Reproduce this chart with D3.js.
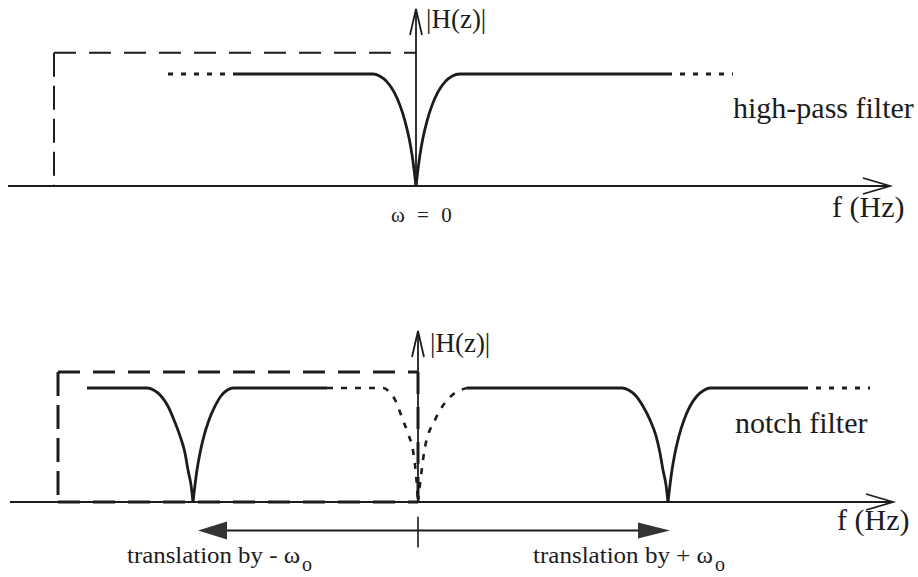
<!DOCTYPE html>
<html><head><meta charset="utf-8">
<script src="https://cdn.jsdelivr.net/npm/d3@7"></script>
<style>html,body{margin:0;padding:0;background:#fff;} svg{display:block;}</style>
</head><body><svg id="c" width="918" height="577"></svg>
<script>
// ---------- data (frequency in arbitrary units, 0 = vertical axis; magnitude 1 = passband) ----------
const axisExtentTop = [-4.08, 4.74];
const axisExtentBot = [-4.08, 4.75];
const idealTop = {x0: -3.62, x1: 0, level: 1.19};   // dashed ideal response, high-pass panel
const idealBot = {x0: -3.60, x1: 0, level: 1.14};   // dashed ideal response, notch panel
const vAxisTopMax = 1.58, vAxisBotMax = 1.50;

// high-pass filter response
const hpDotLeft  = [[-2.48,1],[-1.83,1]];
const hpSolidL   = [[-1.83,1],[-0.43,1],[-0.36,0.98],[-0.29,0.93],[-0.22,0.84],[-0.16,0.72],[-0.11,0.58],[-0.07,0.43],[-0.04,0.28],[-0.02,0.15],[0,0]];
const hpSolidR   = [[0,0],[0.02,0.15],[0.04,0.28],[0.07,0.43],[0.11,0.58],[0.16,0.72],[0.22,0.84],[0.29,0.93],[0.36,0.98],[0.44,1],[2.51,1]];
const hpDotRight = [[2.51,1],[3.17,1]];

// notch filter response
const ntSolidA = [[-3.31,1],[-2.71,1],[-2.64,0.98],[-2.57,0.93],[-2.50,0.84],[-2.44,0.72],[-2.38,0.58],[-2.33,0.43],[-2.30,0.28],[-2.27,0.15],[-2.25,0]];
const ntSolidB = [[-2.25,0],[-2.23,0.15],[-2.21,0.28],[-2.18,0.43],[-2.14,0.58],[-2.09,0.72],[-2.03,0.84],[-1.97,0.93],[-1.91,0.98],[-1.85,1],[-0.91,1]];
const ntDotC   = [[-0.91,1],[-0.35,1],[-0.29,0.97],[-0.22,0.88],[-0.16,0.74],[-0.10,0.60],[-0.05,0.45],[-0.02,0.24],[0,0]];
const ntDotD   = [[0,0],[0.07,0.48],[0.17,0.72],[0.32,0.92],[0.45,0.99],[0.49,1]];
const ntSolidE = [[0.49,1],[2.04,1],[2.11,0.98],[2.18,0.93],[2.25,0.84],[2.32,0.72],[2.38,0.58],[2.42,0.43],[2.45,0.28],[2.48,0.15],[2.50,0]];
const ntSolidF = [[2.50,0],[2.52,0.15],[2.54,0.28],[2.57,0.43],[2.61,0.58],[2.66,0.72],[2.72,0.84],[2.79,0.93],[2.86,0.98],[2.92,1],[3.85,1]];
const ntDotG   = [[3.85,1],[4.52,1]];

// translation arrows
const translation = {left: -2.20, right: 2.52, tickLo: -0.13, tickHi: -0.40, level: -0.25};

// texts
const labels = {
  mag: "|H(z)|", axis: "f (Hz)", hp: "high-pass filter", notch: "notch filter",
  w0: "ω = 0", tMinus: "translation by - ω", tPlus: "translation by + ω", sub: "o"
};

// ---------- drawing ----------
const svg = d3.select("#c");
const ink = "#1c1c1c";
const xTop = d3.scaleLinear().domain([0,1]).range([416,516]);
const xBot = d3.scaleLinear().domain([0,1]).range([418,518]);
const yTop = d3.scaleLinear().domain([0,1]).range([186,74]);
const yBot = d3.scaleLinear().domain([0,1]).range([502,388]);

function curve(x,y,data,opts){
  const line = d3.line().x(d=>x(d[0])).y(d=>y(d[1])).curve(d3.curveMonotoneX);
  svg.append("path").attr("d",line(data)).attr("fill","none")
    .attr("stroke",ink).attr("stroke-width",opts.w||2.8)
    .attr("stroke-linecap","butt")
    .attr("stroke-dasharray",opts.dash||null);
}
function seg(x1,y1,x2,y2,w,dash){
  svg.append("line").attr("x1",x1).attr("y1",y1).attr("x2",x2).attr("y2",y2)
    .attr("stroke",ink).attr("stroke-width",w).attr("stroke-dasharray",dash||null);
}
function openHead(points){
  svg.append("path").attr("d",d3.line()(points)).attr("fill","none")
    .attr("stroke",ink).attr("stroke-width",1.8);
}

function panel(x,y,ext,ideal,vmax,dashW){
  const base = y(0);
  seg(x(ext[0]),base,x(ext[1]),base,1.8);
  const tip = x(ext[1]);
  openHead([[tip-27,base-8],[tip,base],[tip-27,base+8]]);
  const top = y(vmax);
  seg(x(0),base,x(0),top,1.8);
  openHead([[x(0)-6,top+26],[x(0),top],[x(0)+6,top+26]]);
  seg(x(ideal.x0),y(ideal.level),x(ideal.x1),y(ideal.level),dashW,"22,13");
  seg(x(ideal.x0),y(ideal.level),x(ideal.x0),base,dashW,"24,9");
}

// top panel
panel(xTop,yTop,axisExtentTop,idealTop,vAxisTopMax,2);
curve(xTop,yTop,hpDotLeft,{dash:"5,8",w:3});
curve(xTop,yTop,hpSolidL,{});
curve(xTop,yTop,hpSolidR,{});
curve(xTop,yTop,hpDotRight,{dash:"5,8",w:3});

// bottom panel
panel(xBot,yBot,axisExtentBot,idealBot,vAxisBotMax,3);
seg(xBot(idealBot.x0),yBot(0),xBot(0),yBot(0),3,"22,13");
seg(xBot(0),yBot(idealBot.level),xBot(0),yBot(0),3,"22,13");
curve(xBot,yBot,ntSolidA,{});
curve(xBot,yBot,ntSolidB,{});
curve(xBot,yBot,ntDotC,{dash:"6,8",w:2.6});
curve(xBot,yBot,ntDotD,{dash:"6,8",w:2.6});
curve(xBot,yBot,ntSolidE,{});
curve(xBot,yBot,ntSolidF,{});
curve(xBot,yBot,ntDotG,{dash:"5,8",w:3});

// translation arrows
const ty = yBot(translation.level);
seg(xBot(translation.left)+20,ty,xBot(translation.right)-20,ty,1.8);
seg(xBot(0),yBot(translation.tickLo),xBot(0),yBot(translation.tickHi),1.6);
const lx = xBot(translation.left), rx = xBot(translation.right);
svg.append("path").attr("d",d3.line()([[lx,ty],[lx+29,ty-9],[lx+29,ty+9]])+"Z").attr("fill","#333");
svg.append("path").attr("d",d3.line()([[rx,ty],[rx-32,ty-8],[rx-32,ty+8]])+"Z").attr("fill","#333");

// text
function txt(s,x,y,size,anchor){
  return svg.append("text").attr("x",x).attr("y",y)
    .attr("font-family","Liberation Serif")
    .attr("font-size",size).attr("fill",ink).attr("text-anchor",anchor||"start").text(s);
}
txt(labels.mag,426,28,27);
txt(labels.mag,430,352,27);
txt(labels.axis,832,217,30);
txt(labels.axis,837,530,30);
txt(labels.hp,733,118,30);
txt(labels.notch,735,433,30);
txt(labels.w0,391,222,21).attr("word-spacing",7);
txt(labels.tMinus,127,563,23).attr("textLength",173).attr("lengthAdjust","spacingAndGlyphs");
txt(labels.sub,302,571,20);
txt(labels.tPlus,533,563,23).attr("textLength",180).attr("lengthAdjust","spacingAndGlyphs");
txt(labels.sub,715,571,20);
</script></body></html>
